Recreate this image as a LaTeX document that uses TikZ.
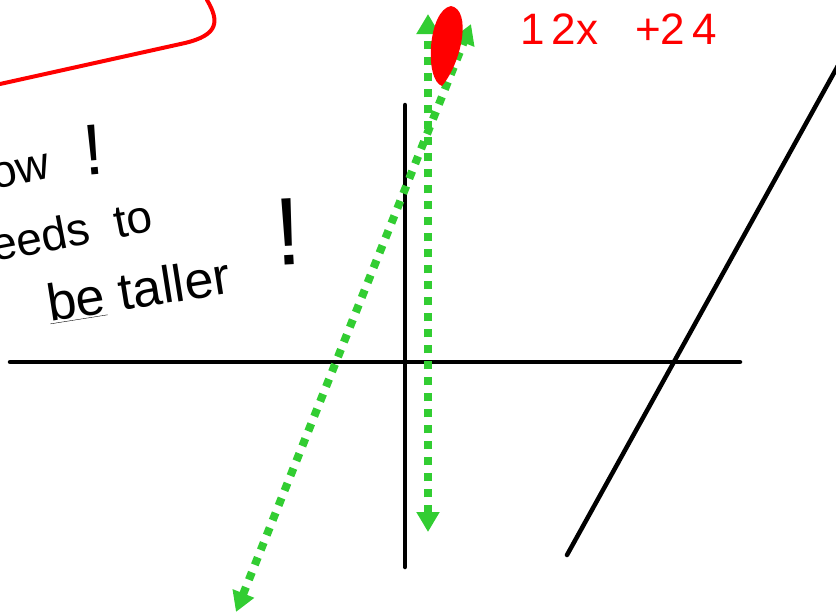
\documentclass[tikz,border=0pt]{standalone}
\usepackage{fontspec}
\setmainfont{Liberation Sans}
\usepackage{tikz}
\usetikzlibrary{arrows.meta}

\definecolor{penGreen}{RGB}{50,205,50}
\definecolor{penRed}{RGB}{255,0,0}

\tikzset{
  axisline/.style={line width=4.5pt, line cap=round},
  greenarrow/.style={penGreen, line width=8pt, dash pattern=on 8pt off 8pt,
    {Triangle[width=22pt,length=20pt]}-{Triangle[width=22pt,length=20pt]}},
  scribble/.style={font=\fontsize{46}{50}\selectfont, inner sep=0pt},
  bang/.style={font=\fontsize{72}{76}\selectfont, inner sep=0pt}
}

\begin{document}
\begin{tikzpicture}[x=1pt, y=-1pt]
            \useasboundingbox (0,0) rectangle (836,614);

            % Axis
            \coordinate (xl) at (10,362);
            \coordinate (xr) at (740,362);
            \coordinate (yt) at (405,105);
            \coordinate (yb) at (405,567);
            \draw[axisline] (xl) -- (xr);
            \draw[axisline] (yt) -- (yb);

            % Line on the right
            \coordinate (la) at (567,555);
            \coordinate (lb) at (840,62);
            \draw[axisline] (la) -- (lb);

            % Green arrows
            \coordinate (vt) at (428,14);
            \coordinate (vb) at (428,532);
            \coordinate (dt) at (471,24);
            \coordinate (db) at (236,612);
            \draw[greenarrow] (vb) -- (vt);
            \draw[greenarrow] (db) -- (dt);

            % Red marks
            \draw[penRed, line width=4pt, line cap=round]
              (0,84) -- (185,43) .. controls (218,35) and (220,22) .. (207,0);
            \fill[penRed] (451,6) .. controls (472,10) and (462,62) .. (442,86)
              .. controls (424,80) and (428,10) .. (451,6);
            \node[scribble, penRed, anchor=base west,
              font=\fontsize{44}{48}\selectfont] (eq) at (520,44) {1\,2x\ \ \ +2\,4};

            % Notes
            \node[scribble, anchor=base west, rotate=12] (n1) at (-6,190) {ow};
            \node[bang, anchor=base, rotate=5] (b1) at (95,175) {!};
            \node[scribble, anchor=base west, rotate=11] (n2) at (-6,262) {eeds\ \ to};
            \node[scribble, anchor=base west, rotate=9,
              font=\fontsize{52}{56}\selectfont] (n3) at (50,322)
              {\underline{be}\ taller};
            \node[bang, anchor=base, rotate=3,
              font=\fontsize{96}{100}\selectfont] (b2) at (290,265) {!};

        \end{tikzpicture}
\end{document}
